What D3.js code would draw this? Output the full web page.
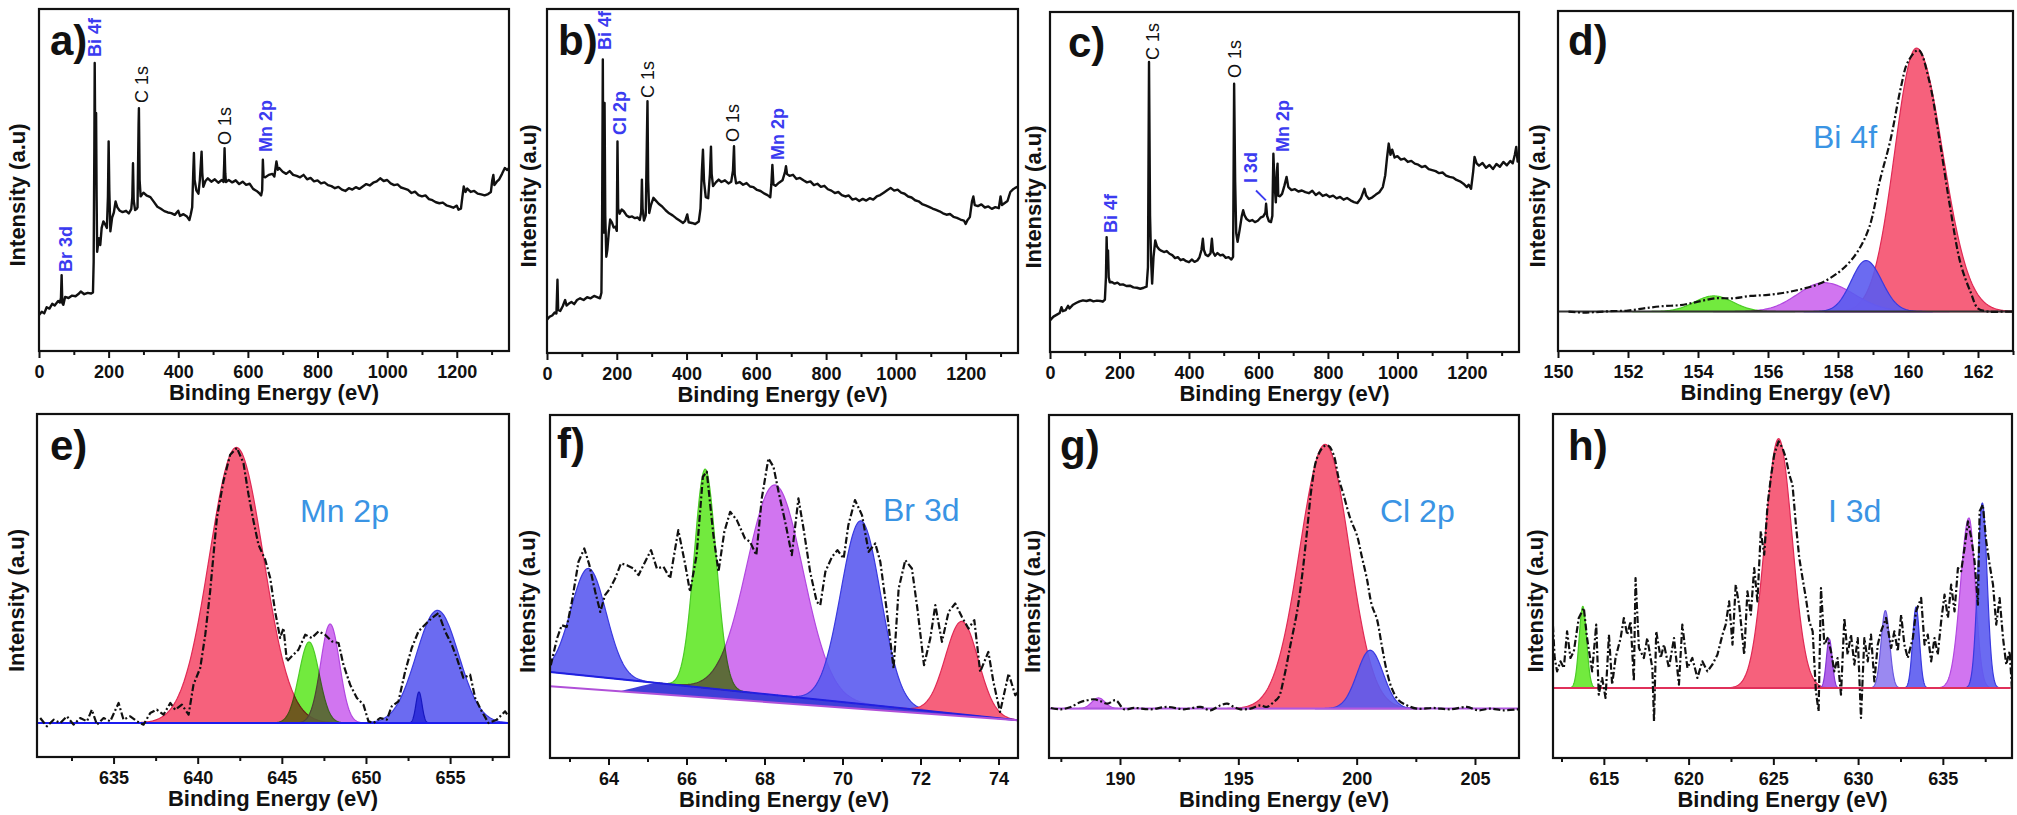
<!DOCTYPE html>
<html><head><meta charset="utf-8">
<script src="https://cdn.jsdelivr.net/npm/d3@7"></script>
<style>
body{margin:0;background:#fff;}
svg{display:block;font-family:"Liberation Sans",Arial,sans-serif;}
</style></head><body>
<svg id="chart" width="2017" height="815"></svg>
<script>
// ---------------- DATA ----------------
// Survey spectra: [binding energy (eV), intensity (a.u.)]
const surveyA = [[0,10.5],[8,11.5],[15,11],[22,12.8],[30,12.4],[38,13.8],[45,13.3],[55,14.6],[60,14.2],[63,15.5],[65,22.2],[67,14],[70,13.5],[75,15.8],[85,15.5],[95,16.2],[105,16],[115,16.8],[120,17.4],[130,16.6],[140,17],[150,16.8],[155,17.1],[157,26],[159,60],[160,84.2],[161.5,62],[162.5,58],[164,69.6],[165.5,45],[167,29],[172,33],[176,31],[180,36],[185,37.9],[190,37],[195,36],[198,45],[200,61.3],[202,47],[205,35],[210,39],[215,40.5],[220,43.7],[225,42],[232,41],[240,40.6],[250,41],[258,40.2],[265,41.5],[268,45],[270,54.9],[272,44],[276,41.2],[280,41.5],[283,42],[286,66],[287,71],[289,50],[292,45.2],[300,46.3],[310,45.4],[320,45],[330,43.6],[340,42.2],[350,41.6],[360,40.9],[370,40.5],[380,40.3],[390,39.8],[400,41],[405,39.5],[415,40],[425,39.3],[432,38.3],[436,40],[440,42],[443,52],[445,57.9],[447,50],[452,47],[458,46],[462,50],[467,58.3],[469,52],[472,48],[478,49.7],[485,50.5],[495,49.5],[505,50.2],[515,49.2],[525,50],[530,49.4],[532,55],[533,59.3],[535,52],[537,49.4],[545,50],[555,49.3],[565,49.9],[575,48.8],[585,49.5],[595,48.6],[605,48.9],[615,47.4],[625,46.8],[632,46.2],[638,45.5],[641,47],[643,55.9],[645,51],[650,50.8],[660,51.5],[670,51.8],[676,51],[682,55.4],[686,53],[690,53.5],[700,52.4],[710,51.8],[720,52.6],[730,51.5],[740,51.2],[750,50.8],[760,51.5],[770,50.2],[780,50.6],[790,49.6],[800,49.9],[810,49],[820,49.3],[830,48.5],[840,48.2],[850,47.6],[860,48],[870,47.2],[880,46.8],[890,47.6],[900,47.2],[910,47.9],[920,47.4],[930,48.1],[940,48.8],[950,48.4],[960,49.2],[970,49.6],[980,50.5],[990,49.7],[1000,50],[1010,49],[1020,48.5],[1030,48.7],[1040,47.8],[1050,47.5],[1060,47.1],[1070,46.2],[1080,46.6],[1090,45.6],[1100,45.2],[1110,45.5],[1120,44.4],[1130,44.1],[1140,43.5],[1150,43.2],[1160,43.4],[1170,42.6],[1180,42.3],[1190,41.9],[1200,42.5],[1205,41.3],[1212,41.6],[1216,45],[1220,48.1],[1225,46.5],[1230,47.5],[1240,46.5],[1250,46.8],[1260,46],[1270,45.8],[1280,45.5],[1290,45.9],[1298,46.5],[1302,50],[1305,51.5],[1308,48.5],[1315,49.5],[1322,50.2],[1330,51.8],[1338,53.5],[1345,52.9],[1350,53.5]];

const surveyB = [[0,9.7],[8,10.6],[15,10.9],[22,11.8],[27,11.5],[30,21.3],[32,12.5],[38,12.2],[45,13.6],[52,15.4],[56,13.8],[62,14.3],[70,14.8],[78,14.2],[86,15.4],[95,15.9],[105,15.4],[115,16.2],[125,15.9],[135,16.6],[145,16.2],[152,15.9],[156,17.5],[158,40],[160,85.3],[161.5,45],[163,35],[165,72.7],[167,40],[170,28],[173,30],[177,35],[181,38.8],[186,38],[191,36.5],[196,36.7],[200,35.5],[202,61.5],[204,42],[208,40.5],[214,41.7],[220,41.2],[228,40],[236,39.5],[244,39.7],[252,39.2],[260,39.4],[266,38.7],[270,41],[272,50.4],[274,42],[278,38.5],[283,40],[286,60],[288,73.2],[290,50],[293,40.7],[298,43],[305,45.1],[312,44.3],[320,43.4],[330,42.6],[340,41.5],[350,40.6],[360,40],[370,39.2],[380,38.5],[390,37.8],[396,38.4],[402,40.3],[406,38],[415,37.8],[425,37.5],[435,38.2],[440,42],[444,53],[447,59.1],[450,50],[455,45.3],[462,45],[467,52],[470,60],[472,52],[476,48.5],[484,49.6],[492,50.4],[500,49.7],[510,50.2],[520,49.3],[528,49.8],[533,53],[536,60.1],[538,52],[542,49.3],[552,49.7],[562,48.9],[572,49.4],[582,48.4],[592,48.2],[602,47.4],[612,47.1],[622,46.4],[632,45.9],[640,45.3],[643,49],[646,54.7],[649,49],[655,48.6],[665,49.5],[675,50.2],[682,52.5],[685,54.3],[688,52],[695,51.5],[705,51.8],[715,50.6],[725,50.9],[735,50.2],[745,49.6],[755,49.9],[765,48.8],[775,49.2],[785,48.3],[795,48.6],[805,47.6],[815,47.2],[825,46.5],[835,46.8],[845,45.9],[855,45.5],[865,45.8],[875,44.6],[885,44.9],[895,44.2],[905,44.8],[915,44.3],[925,45],[935,44.6],[945,45.5],[955,45.9],[965,46.6],[975,47.3],[985,48],[995,47.2],[1005,47.5],[1015,46.6],[1025,46.3],[1035,45.5],[1045,45.2],[1055,44.4],[1065,44.1],[1075,43.3],[1085,42.9],[1095,42.5],[1105,42],[1115,41.6],[1125,41.2],[1135,40.6],[1145,40.2],[1155,40.4],[1165,39.6],[1175,39.3],[1185,38.8],[1195,38.5],[1200,37.5],[1205,38.6],[1212,39.5],[1218,44],[1222,45.5],[1226,43],[1235,42.7],[1245,43.2],[1255,42.3],[1265,42.6],[1275,41.9],[1285,42.4],[1295,42.1],[1300,45.5],[1304,43],[1312,43.6],[1320,44.2],[1328,46.8],[1335,47.5],[1342,48],[1350,48.4]];

const surveyC = [[0,9.3],[10,10.4],[20,11],[28,11.5],[33,13.2],[37,12],[45,12.3],[52,13.6],[56,12.8],[65,13.8],[75,14.4],[85,14.9],[95,15.2],[105,15],[115,15.3],[125,14.9],[135,15.1],[145,15],[152,14.8],[158,15.4],[161,22],[163,33.8],[165,25],[167,29.9],[169,22],[172,20.5],[178,20.6],[186,20.1],[194,20.4],[202,19.8],[210,19.9],[220,19.4],[230,19.5],[240,19],[250,18.9],[260,18.6],[270,18.9],[278,19.2],[282,25],[285,85.3],[288,40],[291,27],[294,20.1],[298,28],[303,32.8],[308,31],[314,30.2],[320,29.8],[328,29.4],[336,29.7],[344,28.9],[352,28.5],[360,27.6],[368,27.9],[376,27],[384,27.3],[392,26.7],[400,26.4],[408,27.2],[416,26.5],[424,26.9],[430,27.8],[436,30],[440,33.3],[443,30],[448,28.6],[455,28.2],[462,29],[466,33.3],[469,29.5],[475,28.3],[482,29.1],[490,28.4],[498,28.6],[506,27.7],[514,27.9],[522,27.2],[527,28],[530,78.9],[533,50],[536,35],[540,32.4],[546,36],[552,40],[556,41.7],[560,40.2],[566,39.1],[574,38.5],[582,38.8],[590,38.2],[598,38.6],[606,39.5],[614,39.9],[620,41],[622,43.6],[625,40],[630,38.5],[636,38.2],[640,40],[643,58.3],[646,50],[650,44],[653,53],[655,55.4],[657,46],[662,45.8],[668,46.5],[675,49],[681,51.5],[686,48.5],[695,47.6],[705,47.9],[715,47.2],[725,47.5],[735,47],[745,46.7],[755,47.4],[765,46.2],[775,46.9],[785,45.9],[795,46.3],[805,45.6],[815,46],[825,45.2],[835,45.6],[845,44.8],[855,45.3],[865,44.6],[875,44.1],[885,43.8],[895,45.2],[905,48],[910,46],[918,45],[928,45.5],[938,46.3],[948,47],[958,48.5],[965,52],[970,57],[975,61.3],[980,58],[985,59.5],[992,57.2],[1000,57.6],[1010,56.6],[1020,56.9],[1030,55.9],[1040,56.2],[1050,55.4],[1060,55.1],[1070,54.4],[1080,54.7],[1090,53.8],[1100,53.5],[1110,53.2],[1120,52.6],[1130,52.8],[1140,51.9],[1150,51.5],[1160,51.3],[1170,50.6],[1180,50.2],[1190,49.5],[1200,48.5],[1205,49.2],[1212,48],[1218,53],[1222,57.4],[1228,55.5],[1235,54.8],[1245,55.6],[1255,54.2],[1265,55],[1275,53.8],[1285,55.3],[1295,54.5],[1305,55.9],[1315,54.9],[1325,56.2],[1332,55.5],[1338,58],[1342,60.3],[1346,56],[1350,57]];

// High-resolution spectra (measured, dash-dot): [eV, intensity]
const dataD = [[150.3,11.6],[150.7,11.3],[151,11.4],[151.5,11.7],[152,11.9],[152.5,12.6],[153,13.2],[153.5,13.5],[154,14.5],[154.5,15.5],[155,15.5],[155.5,16.2],[156,16.5],[156.5,17.2],[157,18.3],[157.5,19.9],[158,23],[158.3,25.8],[158.6,29.9],[158.9,36.6],[159.2,50.3],[159.5,62.1],[159.8,77.7],[160,85.1],[160.3,88.5],[160.6,79.7],[160.9,62.1],[161.2,42.5],[161.5,25.8],[161.8,17],[162,12.5],[162.3,11.6],[162.8,11.6],[163,11.6]];

const dataE = [[630.64,117],[631.04,92],[631.44,112],[631.83,102],[632.23,122],[632.62,97],[633.02,117],[633.42,107],[633.71,142],[634.01,97],[634.41,117],[634.80,107],[635.30,162],[635.59,112],[635.99,122],[636.39,107],[636.78,97],[637.18,132],[637.57,142],[637.97,127],[638.37,162],[638.66,142],[639.06,157],[639.46,127],[639.75,217],[640.15,267],[640.45,367],[640.74,497],[641.14,717],[641.53,827],[641.93,907],[642.33,927],[642.72,882],[643.02,787],[643.32,707],[643.61,637],[644.01,592],[644.31,537],[644.60,437],[644.90,357],[645.10,387],[645.30,287],[645.59,302],[645.99,322],[646.39,367],[646.78,357],[647.18,377],[647.57,367],[647.97,347],[648.37,342],[648.66,277],[649.06,217],[649.46,177],[649.85,157],[650.15,107],[650.45,102],[650.84,117],[651.24,112],[651.53,152],[651.93,167],[652.33,257],[652.72,327],[653.12,377],[653.51,397],[653.91,417],[654.31,432],[654.70,377],[655.10,337],[655.40,297],[655.79,237],[656.19,247],[656.49,177],[656.88,137],[657.28,102],[657.77,112],[658.27,137],[658.47,122]];

const dataF = [[62.52,278],[62.68,358],[62.80,398],[62.93,393],[63.06,468],[63.23,588],[63.38,628],[63.51,578],[63.66,498],[63.79,438],[63.91,488],[64.04,508],[64.17,538],[64.32,583],[64.47,578],[64.64,568],[64.77,548],[64.94,588],[65.09,623],[65.24,568],[65.41,573],[65.58,538],[65.79,683],[65.97,578],[66.09,498],[66.26,608],[66.42,843],[66.52,858],[66.69,668],[66.82,558],[66.97,678],[67.12,738],[67.29,713],[67.50,658],[67.63,648],[67.79,608],[67.93,778],[68.10,898],[68.23,873],[68.36,798],[68.53,708],[68.70,608],[68.87,778],[69.00,688],[69.17,558],[69.34,468],[69.43,458],[69.56,558],[69.73,603],[69.87,623],[70.03,598],[70.15,698],[70.32,773],[70.50,728],[70.67,618],[70.84,643],[70.97,588],[71.14,438],[71.31,268],[71.44,508],[71.61,593],[71.78,568],[71.92,448],[72.09,278],[72.25,358],[72.38,458],[72.55,348],[72.72,438],[72.89,463],[73.06,423],[73.23,388],[73.38,413],[73.53,258],[73.74,318],[73.87,228],[74.04,138],[74.26,253],[74.43,188],[74.51,198]];

const dataG = [[187.08,150],[187.50,146],[187.92,153],[188.34,168],[188.62,173],[188.90,176],[189.18,170],[189.47,163],[189.82,173],[190.17,146],[190.59,150],[191.29,146],[192.00,153],[192.70,146],[193.40,153],[193.82,143],[194.25,158],[194.53,163],[194.81,153],[195.09,146],[195.51,148],[195.93,158],[196.21,153],[196.50,168],[196.71,183],[196.92,238],[197.20,338],[197.48,438],[197.69,543],[197.90,678],[198.11,818],[198.32,898],[198.60,933],[198.81,936],[199.03,908],[199.24,838],[199.45,788],[199.73,718],[200.01,668],[200.22,603],[200.43,538],[200.64,458],[200.85,418],[201.06,338],[201.28,258],[201.49,208],[201.77,173],[202.12,158],[202.54,148],[203.24,150],[203.95,146],[204.65,153],[205.14,143],[205.63,148],[206.20,143],[206.83,146]];

const dataH = [[611.95,440],[612.10,300],[612.24,260],[612.44,290],[612.64,270],[612.83,380],[613.03,300],[613.23,320],[613.52,420],[613.82,450],[614.01,360],[614.31,260],[614.55,400],[614.70,190],[614.90,240],[615.10,180],[615.30,370],[615.49,220],[615.69,300],[615.99,360],[616.18,420],[616.38,370],[616.58,410],[616.77,230],[616.87,540],[617.07,330],[617.36,300],[617.56,360],[617.86,270],[617.96,110],[618.09,380],[618.35,300],[618.55,340],[618.84,270],[619.14,360],[619.43,220],[619.63,400],[619.93,270],[620.22,300],[620.52,240],[620.81,290],[621.11,260],[621.40,280],[621.70,310],[622.00,370],[622.19,400],[622.39,470],[622.59,340],[622.78,520],[622.98,460],[623.28,310],[623.47,500],[623.67,430],[623.87,570],[624.06,470],[624.26,680],[624.46,610],[624.66,760],[624.85,840],[625.05,910],[625.31,950],[625.54,930],[625.74,900],[625.94,850],[626.13,820],[626.33,700],[626.53,600],[626.72,540],[626.92,480],[627.12,410],[627.32,380],[627.51,200],[627.67,140],[627.81,510],[628.01,340],[628.20,360],[628.40,320],[628.60,260],[628.79,300],[628.99,190],[629.19,420],[629.38,310],[629.58,370],[629.78,280],[629.98,360],[630.17,120],[630.37,360],[630.57,290],[630.76,370],[630.96,230],[631.16,340],[631.35,380],[631.65,420],[631.95,330],[632.14,380],[632.34,320],[632.54,430],[632.73,340],[632.93,300],[633.23,360],[633.42,440],[633.72,480],[633.92,340],[634.11,370],[634.31,290],[634.51,360],[634.70,310],[634.90,410],[635.10,490],[635.30,420],[635.49,520],[635.69,440],[635.89,570],[636.08,560],[636.28,630],[636.48,710],[636.68,660],[636.87,590],[637.07,460],[637.17,740],[637.36,760],[637.56,650],[637.76,580],[637.96,520],[638.15,400],[638.35,480],[638.55,360],[638.74,280],[638.94,320],[639.10,190]];

// Fitted peak components: [centre eV, height above background, sigma low-side, sigma high-side]
const peaksD = [[160.24,77.5,0.62,0.75],[157.6,8.5,0.75,0.85],[158.8,15,0.42,0.45],[154.45,4.6,0.55,0.55]];
const peaksE = [[642.3,827,1.6,1.6],[647.87,297,0.56,0.56],[654.25,338,1.26,1.26],[653.15,93,0.18,0.18],[646.62,243,0.6,0.6]];
const peaksF = [[63.49,322,0.45,0.45],[68.27,630,0.72,0.72],[70.47,549,0.51,0.51],[73.06,279,0.42,0.42],[66.48,656,0.28,0.28]];
const peaksG = [[189.09,32,0.28,0.28],[198.67,792,1.07,1.02],[200.57,175,0.55,0.55]];
const peaksH = [[625.31,748,0.8,0.8],[613.76,245,0.22,0.22],[628.3,147,0.17,0.17],[631.61,232,0.25,0.25],[633.42,243,0.2,0.2],[636.54,510,0.5,0.37],[637.33,555,0.28,0.28]];
// Background lines: [[eV, I],[eV, I]]
const bgD = [[150,11.6],[163,11.6]];
const bgE = [[630.4,102],[658.6,102]];
const bgF = [[62.5,258],[74.5,113]];
const bgF2 = [[62.5,215],[74.5,113]];
const bgG = [[187,148],[207,148]];
const bgH = [[612,210],[639,210]];
const bandF = [64.3, 74.5];   // eV range of the shaded band between the two backgrounds in f

// Ticks
const surveyMajor = [0,200,400,600,800,1000,1200];
const surveyMinor = [100,300,500,700,900,1100,1300];
const ticksD = [150,152,154,156,158,160,162], minorD = [151,153,155,157,159,161,163];
const ticksE = [635,640,645,650,655], minorE = [632.5,637.5,642.5,647.5,652.5,657.5];
const ticksF = [64,66,68,70,72,74], minorF = [63,65,67,69,71,73];
const ticksG = [190,195,200,205], minorG = [187.5,192.5,197.5,202.5];
const ticksH = [615,620,625,630,635], minorH = [612.5,617.5,622.5,627.5,632.5,637.5];

// Text
const letters = ['a)','b)','c)','d)','e)','f)','g)','h)'];
const elementTitles = {d:'Bi 4f', e:'Mn 2p', f:'Br 3d', g:'Cl 2p', h:'I 3d'};
const xTitle = 'Binding Energy (eV)', yTitle = 'Intensity (a.u)';
const labelsA = [['Bi 4f','b'],['C 1s','k'],['O 1s','k'],['Mn 2p','b'],['Br 3d','b']];
const labelsB = [['Bi 4f','b'],['Cl 2p','b'],['C 1s','k'],['O 1s','k'],['Mn 2p','b']];
const labelsC = [['C 1s','k'],['O 1s','k'],['Bi 4f','b'],['I 3d','b'],['Mn 2p','b']];

// ---------------- LAYOUT / STYLE ----------------
const FILL = {red:'#f5506e', blue:'#5b5bf0', magenta:'#cc66ee', green:'#72ea3e', dblue:'#2b2bd8', violet:'#a650e6', lav:'#8f7cf0'};
const STROKE = {red:'#e02a55', blue:'#3a3ae0', magenta:'#b248e0', green:'#4ccc26', dblue:'#1818c0', violet:'#8636d4', lav:'#6a58e0'};
const labelPos = {
  a:[[62,48],[109,94],[192,136],[233,143],[33,263]],
  b:[[64,41],[79,126],[107,89],[192,133],[237,151]],
  c:[[109,48],[191,66],[67,221],[207,171],[239,140]]
};
const panels = [
 {k:'a',L:39,R:509,T:9,B:351,xd:[0,1350],yd:[0,100],maj:surveyMajor,min:surveyMinor,survey:surveyA,labels:labelsA,yo:14,let:[11,46]},
 {k:'b',L:547,R:1018,T:9,B:353,xd:[0,1350],yd:[0,100],maj:surveyMajor,min:surveyMinor,survey:surveyB,labels:labelsB,yo:11,let:[11,46]},
 {k:'c',L:1050,R:1519,T:12,B:352,xd:[0,1350],yd:[0,100],maj:surveyMajor,min:surveyMinor,survey:surveyC,labels:labelsC,yo:9,let:[18,45]},
 {k:'d',L:1558,R:2013,T:11,B:351,xd:[150,163],yd:[0,100],maj:ticksD,min:minorD,data:dataD,peaks:peaksD,cols:['red','magenta','blue','green'],bg:[bgD],bgc:['#333'],yo:13,let:[10,44],tp:[255,137],smooth:true},
 {k:'e',L:37,R:509,T:414,B:757,xd:[630.45,658.5],yd:[0,1029],maj:ticksE,min:minorE,data:dataE,peaks:peaksE,cols:['red','magenta','blue','dblue','green'],bg:[bgE],bgc:['#1c1cf0'],yo:13,let:[13,46],tp:[263,108]},
 {k:'f',L:550,R:1018,T:415,B:758,xd:[62.5,74.5],yd:[0,1028],maj:ticksF,min:minorF,data:dataF,peaks:peaksF,cols:['blue','magenta','blue','red','green'],bg:[bgF,bgF2],bgc:['#2020e0','#b050d8'],band:bandF,yo:15,let:[7,43],tp:[333,106]},
 {k:'g',L:1049,R:1519,T:415,B:758,xd:[187,206.86],yd:[0,1028],maj:ticksG,min:minorG,data:dataG,peaks:peaksG,cols:['magenta','red','blue'],bg:[bgG],bgc:['#b056e0'],yo:9,let:[11,45],tp:[331,107],smooth:true},
 {k:'h',L:1553,R:2012,T:414,B:758,xd:[612,639.08],yd:[0,1032],maj:ticksH,min:minorH,data:dataH,peaks:peaksH,cols:['red','green','violet','lav','blue','magenta','blue'],bg:[bgH],bgc:['#e0305a'],yo:10,let:[15,46],tp:[275,108]}
];

const svg = d3.select('#chart');
const defs = svg.append('defs');
const lin = pts => x => pts[0][1] + (pts[1][1]-pts[0][1])*(x-pts[0][0])/(pts[1][0]-pts[0][0]);
const gauss = (x,p) => { const s = x < p[0] ? p[2] : p[3]; return p[1]*Math.exp(-0.5*((x-p[0])/s)**2); };

panels.forEach((p,i) => {
  const x = d3.scaleLinear().domain(p.xd).range([p.L,p.R]);
  const y = d3.scaleLinear().domain(p.yd).range([p.B,p.T]);
  const g = svg.append('g');
  defs.append('clipPath').attr('id','clip'+p.k).append('rect')
    .attr('x',p.L).attr('y',p.T).attr('width',p.R-p.L).attr('height',p.B-p.T);
  const plot = g.append('g').attr('clip-path',`url(#clip${p.k})`);

  if (p.survey) {
    plot.append('path').datum(p.survey)
      .attr('d', d3.line().x(d=>x(d[0])).y(d=>y(d[1])))
      .attr('fill','none').attr('stroke','#111').attr('stroke-width',2.4).attr('stroke-linejoin','round');
    p.labels.forEach((lb,j) => {
      const pos = labelPos[p.k][j];
      g.append('text').attr('transform',`translate(${p.L+pos[0]},${p.T+pos[1]}) rotate(-90)`)
        .attr('font-size',18).attr('font-weight', lb[1]==='b'?'bold':'normal')
        .attr('fill', lb[1]==='b' ? '#3b3bf0' : '#111').text(lb[0]);
    });
    if (p.k==='c') {
      plot.append('line').attr('x1',x(593)).attr('y1',y(47.5)).attr('x2',x(621.5)).attr('y2',y(44.6))
        .attr('stroke','#3b3bf0').attr('stroke-width',1.8);
    }
  } else {
    const base = lin(p.bg[0]);
    if (p.band) {
      const lower = lin(p.bg[1]);
      const xs = d3.range(61).map(t => p.band[0] + (p.band[1]-p.band[0])*t/60);
      const ramp = v => Math.min(1, Math.max(0, (v - p.band[0]) / 0.9));
      plot.append('path').datum(xs)
        .attr('d', d3.area().x(v=>x(v)).y0(v=>y(lower(v))).y1(v=>y(lower(v) + (base(v)-lower(v))*ramp(v))))
        .attr('fill','#2a2ad4').attr('fill-opacity',0.9);
    }
    p.peaks.forEach((pk,j) => {
      const col = p.cols[j];
      const lo = Math.max(p.xd[0], pk[0]-4.2*pk[2]), hi = Math.min(p.xd[1], pk[0]+4.2*pk[3]);
      const n = 160, xs = d3.range(n+1).map(t => lo + (hi-lo)*t/n);
      const area = d3.area().x(v=>x(v)).y0(v=>y(base(v))).y1(v=>y(base(v)+gauss(v,pk)));
      const el = plot.append('path').datum(xs).attr('d',area)
        .attr('fill',FILL[col]).attr('stroke',STROKE[col]).attr('stroke-width',1.2);
      if (col==='green') el.style('mix-blend-mode','multiply');
      else el.attr('fill-opacity',0.9);
    });
    p.bg.forEach((b,j) => {
      plot.append('line').attr('x1',x(b[0][0])).attr('y1',y(b[0][1])).attr('x2',x(b[1][0])).attr('y2',y(b[1][1]))
        .attr('stroke',p.bgc[j]).attr('stroke-width',2);
    });
    plot.append('path').datum(p.data)
      .attr('d', d3.line().x(d=>x(d[0])).y(d=>y(d[1])).curve(p.smooth? d3.curveCatmullRom : d3.curveLinear))
      .attr('fill','none').attr('stroke','#111').attr('stroke-width',2.2)
      .attr('stroke-dasharray','7,2.5,2,2.5').attr('stroke-linejoin','round');
    g.append('text').attr('x',p.L+p.tp[0]).attr('y',p.T+p.tp[1])
      .attr('font-size',32).attr('fill','#3a94e4').text(elementTitles[p.k]);
  }

  // frame
  g.append('rect').attr('x',p.L).attr('y',p.T).attr('width',p.R-p.L).attr('height',p.B-p.T)
    .attr('fill','none').attr('stroke','#111').attr('stroke-width',2.2);
  // axes
  const ax = g.append('g').attr('transform',`translate(0,${p.B})`)
    .call(d3.axisBottom(x).tickValues(p.maj).tickSize(7).tickPadding(7).tickFormat(d3.format('d')));
  const mx = g.append('g').attr('transform',`translate(0,${p.B})`)
    .call(d3.axisBottom(x).tickValues(p.min).tickSize(4).tickFormat(''));
  [ax,mx].forEach(a => { a.select('.domain').remove(); a.selectAll('line').attr('stroke','#111').attr('stroke-width',2); });
  ax.selectAll('text').attr('font-size',18).attr('font-weight','bold').attr('fill','#111')
    .attr('font-family','"Liberation Sans",Arial,sans-serif');
  g.append('text').attr('x',(p.L+p.R)/2).attr('y',p.B+49).attr('text-anchor','middle')
    .attr('font-size',22).attr('font-weight','bold').attr('fill','#111').text(xTitle);
  g.append('text').attr('transform',`translate(${p.L-p.yo},${(p.T+p.B)/2+15}) rotate(-90)`)
    .attr('text-anchor','middle').attr('font-size',22).attr('font-weight','bold').attr('fill','#111').text(yTitle);
  g.append('text').attr('x',p.L+p.let[0]).attr('y',p.T+p.let[1])
    .attr('font-size',42).attr('font-weight','bold').attr('fill','#111').text(letters[i]);
});
</script>
</body></html>
